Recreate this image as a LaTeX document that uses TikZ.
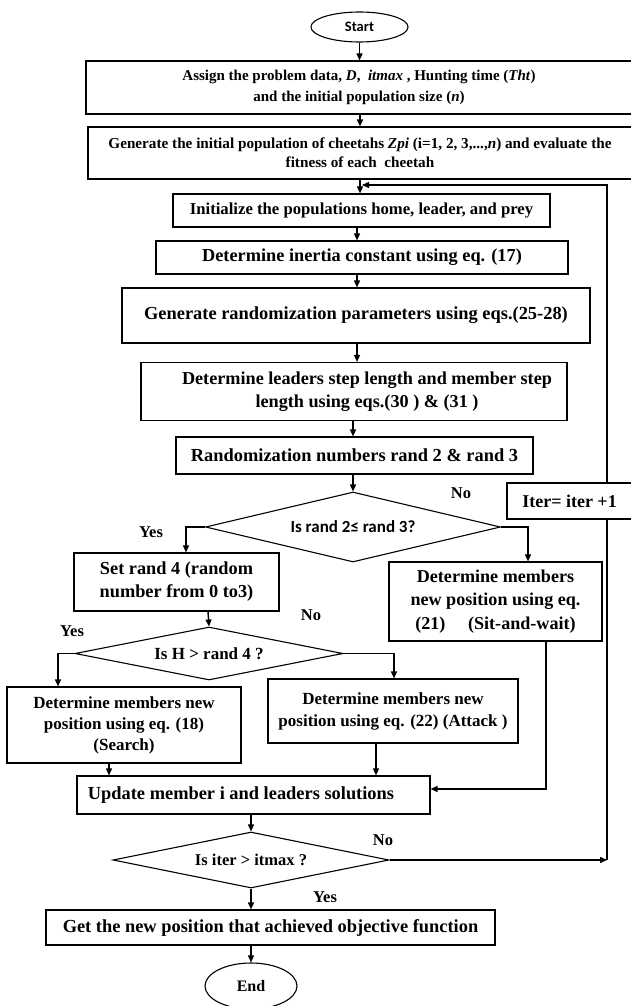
\documentclass[tikz,border=0pt]{standalone}
\usepackage{fontspec}
\setmainfont{Liberation Serif}
\newfontfamily\calfont{Carlito}
\usetikzlibrary{shapes.geometric,arrows.meta}
\begin{document}
\begin{tikzpicture}[x=1pt,y=-1pt,
  box/.style={draw, line width=1.1pt, rectangle, inner sep=0pt, align=center, font=\bfseries\fontsize{18.4}{23}\selectfont},
  txt/.style={inner sep=0pt, align=center, font=\bfseries\fontsize{18.4}{23}\selectfont},
  dia/.style={draw, line width=1.1pt, diamond, inner sep=0pt, font=\bfseries\fontsize{17}{19}\selectfont},
  term/.style={draw, ellipse, line width=1.1pt, inner sep=0pt},
  arr/.style={line width=1.4pt, -{Triangle[length=7pt,width=6pt]}},
  lab/.style={inner sep=1pt, font=\bfseries\fontsize{16.5}{18}\selectfont}
]
\useasboundingbox (0,0) rectangle (630,1006);

% x positions of vertical connectors
\coordinate (c1) at (360,0);
\coordinate (c2) at (357,0);
\coordinate (c3) at (353,0);
\coordinate (cy1) at (186,0);
\coordinate (cn1) at (528,0);
\coordinate (cs) at (208,0);
\coordinate (cy2) at (58,0);
\coordinate (cn2) at (394,0);
\coordinate (cse) at (109,0);
\coordinate (cat) at (376,0);
\coordinate (csw) at (546,0);
\coordinate (cu) at (251,0);
\coordinate (loopx) at (607,0);
\coordinate (looptop) at (362,185);

% nodes
\node[term, minimum width=97, minimum height=30, font=\calfont\bfseries\fontsize{14.5}{16}\selectfont] (start) at (359.5,27) {Start};
\node[box, minimum width=546, minimum height=53, font=\bfseries\fontsize{15}{21}\selectfont] (assign) at (359,87.5)
  {Assign the problem data, \textit{D},\ \ \textit{itmax} , Hunting time (\textit{Tht})\\and the initial population size (\textit{n})};
\node[box, minimum width=544, minimum height=52, font=\bfseries\fontsize{15.2}{19}\selectfont] (gen) at (360,153)
  {Generate the initial population of cheetahs \textit{Zpi} (i=1, 2, 3,...,\textit{n}) and evaluate the\\fitness of each\ \ cheetah};
\node[box, minimum width=377, minimum height=33, font=\bfseries\fontsize{16.7}{19}\selectfont] (init) at (361.5,210.5)
  {Initialize the populations home, leader, and prey};
\node[box, minimum width=412, minimum height=33, font=\bfseries\fontsize{18.3}{23}\selectfont] (inertia) at (362,257.5)
  {Determine inertia constant using eq. (17)};
\node[box, minimum width=468, minimum height=55] (genrand) at (356,315.5)
  {Generate randomization parameters using eqs.(25-28)};
\node[box, minimum width=426, minimum height=58] (leaders) at (354,391.5) {};
\node[txt, font=\bfseries\fontsize{18.2}{23}\selectfont] (leaderst) at (367,391.5)
  {Determine leaders step length and member step\\length using eqs.(30 ) \& (31 )};
\node[box, minimum width=357, minimum height=37] (randnum) at (354.5,455.5)
  {Randomization numbers rand 2 \& rand 3};
\node[dia, aspect=4.2, minimum width=295, minimum height=70, font=\calfont\bfseries\fontsize{17}{19}\selectfont] (dia1) at (353,527)
  {Is rand 2≤ rand 3?};
\node[box, minimum width=205, minimum height=58, font=\bfseries\fontsize{18.3}{23}\selectfont] (setbox) at (176.5,582)
  {Set rand 4 (random\\number from 0 to3)};
\node[box, minimum width=213, minimum height=79, font=\bfseries\fontsize{18.1}{23.5}\selectfont] (sitbox) at (495.5,601.5)
  {Determine members\\new position using eq.\\(21)\quad\ (Sit-and-wait)};
\node[dia, aspect=5.06, minimum width=268, minimum height=53] (dia2) at (209,653.5)
  {Is H \textgreater{} rand 4 ?};
\node[box, minimum width=234, minimum height=76, font=\bfseries\fontsize{17}{21}\selectfont] (search) at (124,725)
  {Determine members new\\position using eq. (18)\\(Search)};
\node[box, minimum width=250, minimum height=64, font=\bfseries\fontsize{17}{22}\selectfont] (attack) at (393,711)
  {Determine members new\\position using eq. (22) (Attack )};
\node[box, minimum width=353, minimum height=38] (update) at (253.5,795) {};
\node[txt] (updatet) at (241,795) {Update member i and leaders solutions};
\node[dia, aspect=4.93, minimum width=276, minimum height=56, font=\bfseries\fontsize{16.5}{19}\selectfont] (dia3) at (251,860)
  {Is iter \textgreater{} itmax ?};
\node[box, minimum width=449, minimum height=35] (get) at (270.5,927.5)
  {Get the new position that achieved objective function};
\node[term, minimum width=92, minimum height=46, font=\bfseries\fontsize{16}{18}\selectfont] (end) at (251,986) {End};

% labels
\node[lab] (yes1) at (151,532) {Yes};
\node[lab] (no1) at (461,493) {No};
\node[lab] (yes2) at (72,631) {Yes};
\node[lab] (no2) at (311,615) {No};
\node[lab] (no3) at (383,840) {No};
\node[lab] (yes3) at (325,897) {Yes};

% main connectors
\draw[arr] (start.south) -- (start.south |- assign.north);
\draw[arr] (c1 |- assign.south) -- (c1 |- gen.north);
\draw[arr] (c1 |- gen.south) -- (c1 |- init.north);
\draw[arr] (c2 |- init.south) -- (c2 |- inertia.north);
\draw[arr] (c2 |- inertia.south) -- (c2 |- genrand.north);
\draw[arr] (c2 |- genrand.south) -- (c2 |- leaders.north);
\draw[arr] (c3 |- leaders.south) -- (c3 |- randnum.north);
\draw[arr] (c3 |- randnum.south) -- (dia1.north);
\draw[arr] (dia1.west) -| (cy1 |- setbox.north);
\draw[arr] (dia1.east) -| (cn1 |- sitbox.north);
\draw[arr] (cs |- setbox.south) -- (dia2.north);
\draw[arr] (dia2.west) -| (cy2 |- search.north);
\draw[arr] (dia2.east) -| (cn2 |- attack.north);
\draw[arr] (cse |- search.south) -- (cse |- update.north);
\draw[arr] (cat |- attack.south) -- (cat |- update.north);
\draw[arr] (csw |- sitbox.south) |- ([yshift=6pt]update.east);
\draw[arr] (cu |- update.south) -- (dia3.north);
\draw[arr] (dia3.south) -- (cu |- get.north);
\draw[arr] (cu |- get.south) -- (end.north);
% loop back
\draw[arr] (dia3.east) -- (dia3.east -| loopx);
\draw[arr] (dia3.east -| loopx) -- (loopx |- looptop) -- (looptop);
\node[box, fill=white, minimum width=125, minimum height=36, font=\bfseries\fontsize{18}{20}\selectfont] (iter) at (569.5,501) {Iter= iter +1};
\end{tikzpicture}
\end{document}
